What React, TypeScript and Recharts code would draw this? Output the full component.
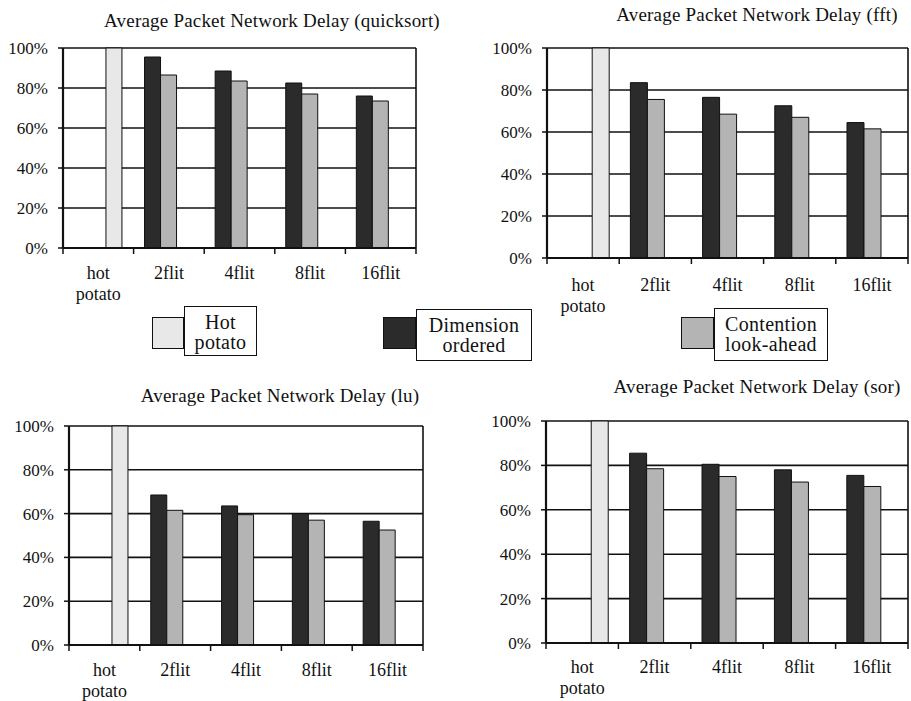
import React from "react";
import { BarChart, Bar, XAxis, YAxis, CartesianGrid } from "recharts";

const categories = ["hot potato", "2flit", "4flit", "8flit", "16flit"];
const hotPotato = [100, null, null, null, null];

const quicksortDim = [null, 95.5, 88.5, 82.5, 76];
const quicksortCont = [null, 86.5, 83.5, 77, 73.5];
const fftDim = [null, 83.5, 76.5, 72.5, 64.5];
const fftCont = [null, 75.5, 68.5, 67, 61.5];
const luDim = [null, 68.5, 63.5, 60, 56.5];
const luCont = [null, 61.5, 59.5, 57, 52.5];
const sorDim = [null, 85.5, 80.5, 78, 75.5];
const sorCont = [null, 78.5, 75, 72.5, 70.5];

const yTicks = [0, 20, 40, 60, 80, 100];

const DARK = "#2b2b2b";
const MID = "#b4b4b4";
const LIGHT = "#e8e8e8";
const INK = "#111";
const FONT = "'Liberation Serif', 'DejaVu Serif', serif";

const buildRows = (dim: (number | null)[], cont: (number | null)[]) =>
  categories.map((name, i) => ({ name, dim: dim[i], cont: cont[i], hot: hotPotato[i] }));

// category label plus the small ticks on the band edges
const XTick = (props: any) => {
  const { x, y, payload, index, visibleTicksCount, labelDy } = props;
  const half = payload.offset || 0;
  const lines = String(payload.value).split(" ");
  const last = index === visibleTicksCount - 1;
  return (
    <g>
      <line x1={x - half} x2={x - half} y1={y} y2={y + 6} stroke={INK} strokeWidth={1.5} />
      {last && <line x1={x + half} x2={x + half} y1={y} y2={y + 6} stroke={INK} strokeWidth={1.5} />}
      <text x={x} y={y} textAnchor="middle" fontSize={18} fontFamily={FONT} fill={INK}>
        {lines.map((l, i) => (
          <tspan key={i} x={x} dy={i === 0 ? labelDy : 21}>
            {l}
          </tspan>
        ))}
      </text>
    </g>
  );
};

type PanelProps = {
  title: string;
  dim: (number | null)[];
  cont: (number | null)[];
  left: number;
  top: number;
  width: number;
  height: number;
  yWidth: number;
  mTop: number;
  mRight: number;
  xHeight: number;
  labelDy: number;
  titleX: number;
  titleY: number;
};

const Panel = (p: PanelProps) => {
  const rows = buildRows(p.dim, p.cont);
  return (
    <>
      <div
        style={{
          position: "absolute",
          left: p.titleX - 250,
          top: p.titleY - 13,
          width: 500,
          lineHeight: "26px",
          textAlign: "center",
          fontSize: 19,
          letterSpacing: 0.2,
          fontFamily: FONT,
          color: INK,
          whiteSpace: "nowrap",
        }}
      >
        {p.title}
      </div>
      <div style={{ position: "absolute", left: p.left, top: p.top }}>
        <BarChart
          width={p.width}
          height={p.height}
          data={rows}
          margin={{ top: p.mTop, right: p.mRight, bottom: 0, left: 0 }}
          barCategoryGap="15.5%"
          barGap={0}
        >
          <CartesianGrid
            stroke={INK}
            strokeWidth={1.6}
            verticalCoordinatesGenerator={({ offset }: any) => [offset.left, offset.left + offset.width]}
          />
          <XAxis
            dataKey="name"
            height={p.xHeight}
            tick={<XTick labelDy={p.labelDy} />}
            tickLine={false}
            tickSize={0}
            tickMargin={0}
            axisLine={{ stroke: INK, strokeWidth: 2.2 }}
            interval={0}
          />
          <YAxis
            width={p.yWidth}
            domain={[0, 100]}
            ticks={yTicks}
            tickFormatter={(v) => `${v}%`}
            tick={{ fontSize: 17, fontFamily: FONT, fill: INK }}
            tickSize={5}
            tickMargin={10}
            tickLine={{ stroke: INK, strokeWidth: 1.5 }}
            axisLine={{ stroke: INK, strokeWidth: 2.2 }}
          />
          <Bar dataKey="dim" fill={DARK} stroke={INK} strokeWidth={1} isAnimationActive={false} />
          <Bar dataKey="cont" fill={MID} stroke={INK} strokeWidth={1} isAnimationActive={false} />
          <Bar dataKey="hot" fill={LIGHT} stroke={INK} strokeWidth={1} isAnimationActive={false} />
        </BarChart>
      </div>
    </>
  );
};

const legendItems = [
  { lines: ["Hot", "potato"], color: LIGHT, sx: 152, bx: 184, bw: 73, by: 306, bh: 50 },
  { lines: ["Dimension", "ordered"], color: DARK, sx: 383, bx: 416, bw: 116, by: 309, bh: 52 },
  { lines: ["Contention", "look-ahead"], color: MID, sx: 681, bx: 714, bw: 114, by: 308, bh: 53 },
];

const LegendBoxes = () => (
  <>
    {legendItems.map((it) => (
      <React.Fragment key={it.lines[0]}>
        <div
          style={{
            position: "absolute",
            left: it.sx,
            top: 317,
            width: it.bx - it.sx,
            height: 32,
            background: it.color,
            border: `1px solid ${INK}`,
            boxSizing: "border-box",
          }}
        />
        <div
          style={{
            position: "absolute",
            left: it.bx,
            top: it.by,
            width: it.bw,
            height: it.bh,
            border: `1.5px solid ${INK}`,
            boxSizing: "border-box",
            background: "#fff",
            fontFamily: FONT,
            fontSize: 20,
            letterSpacing: 0.3,
            lineHeight: "20px",
            textAlign: "center",
            paddingTop: 5,
            color: INK,
          }}
        >
          {it.lines[0]}
          <br />
          {it.lines[1]}
        </div>
      </React.Fragment>
    ))}
  </>
);

export default function App() {
  return (
    <div style={{ position: "absolute", left: 0, top: 0, width: 911, height: 701, background: "#fff", overflow: "hidden" }}>
      <Panel
        title="Average Packet Network Delay (quicksort)"
        dim={quicksortDim}
        cont={quicksortCont}
        left={0}
        top={0}
        width={440}
        height={310}
        yWidth={63}
        mTop={48}
        mRight={24}
        xHeight={62}
        labelDy={31}
        titleX={272}
        titleY={21}
      />
      <Panel
        title="Average Packet Network Delay (fft)"
        dim={fftDim}
        cont={fftCont}
        left={470}
        top={0}
        width={441}
        height={320}
        yWidth={77}
        mTop={48}
        mRight={3}
        xHeight={62}
        labelDy={33}
        titleX={757}
        titleY={15}
      />
      <Panel
        title="Average Packet Network Delay (lu)"
        dim={luDim}
        cont={luCont}
        left={0}
        top={370}
        width={440}
        height={331}
        yWidth={69}
        mTop={56}
        mRight={17}
        xHeight={56}
        labelDy={31}
        titleX={280}
        titleY={396}
      />
      <Panel
        title="Average Packet Network Delay (sor)"
        dim={sorDim}
        cont={sorCont}
        left={470}
        top={370}
        width={441}
        height={331}
        yWidth={76}
        mTop={51}
        mRight={3}
        xHeight={58}
        labelDy={30}
        titleX={757}
        titleY={387}
      />
      <LegendBoxes />
    </div>
  );
}
